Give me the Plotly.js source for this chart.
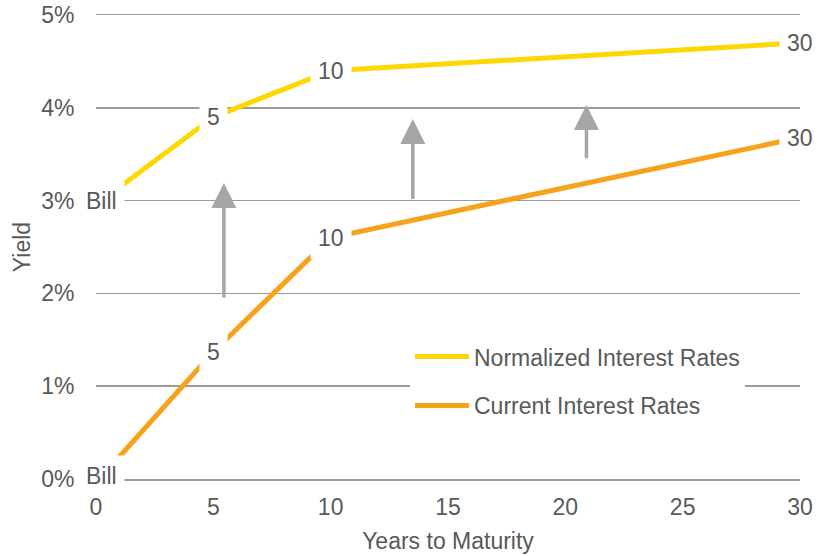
<!DOCTYPE html>
<html>
<head>
<meta charset="utf-8">
<script src="https://cdn.plot.ly/plotly-3.0.1.min.js"></script>
<style>
  html, body { margin: 0; padding: 0; background: #ffffff; }
  #chart { width: 826px; height: 556px; }
</style>
</head>
<body>
<div id="chart"></div>
<script>
// ---- Data ----
var maturities = [0.25, 5, 10, 30];
var pointLabels = ['Bill', '5', '10', '30'];
var normalizedRates = [3.0, 3.9, 4.4, 4.7];
var currentRates = [0.03, 1.37, 2.6, 3.68];

var seriesNames = ['Normalized Interest Rates', 'Current Interest Rates'];

// upward shift arrows (x position, from yield, to yield)
var arrowX = [5.45, 13.5, 20.9];
var arrowFrom = [1.94, 3.0, 3.44];
var arrowTo = [3.19, 3.88, 4.03];

var xTicks = [0, 5, 10, 15, 20, 25, 30];
var yTicks = [0, 1, 2, 3, 4, 5];

// ---- Styles ----
var FONT = 'Liberation Sans, Arial, sans-serif';
var FS = 23;
var TEXT = '#595959';
var YELLOW = '#FFD700';
var ORANGE = '#F7A21B';
var GRID = '#9B9B9B';
var ARROW = '#A6A6A6';

var traces = [
  {
    x: maturities, y: normalizedRates, name: seriesNames[0],
    type: 'scatter', mode: 'lines', legendgroup: 'a',
    line: { color: YELLOW, width: 5 }, hoverinfo: 'skip'
  },
  {
    x: maturities, y: currentRates, name: seriesNames[1],
    type: 'scatter', mode: 'lines', legendgroup: 'b',
    line: { color: ORANGE, width: 5 }, hoverinfo: 'skip'
  }
];

var annotations = [];
[normalizedRates, currentRates].forEach(function (series) {
  series.forEach(function (v, i) {
    annotations.push({
      x: maturities[i], y: v, xref: 'x', yref: 'y',
      text: pointLabels[i], showarrow: false,
      bgcolor: '#ffffff', borderpad: 7,
      font: { family: FONT, size: FS, color: TEXT },
      xanchor: 'center', yanchor: 'middle'
    });
  });
});
arrowX.forEach(function (ax, i) {
  annotations.push({
    x: ax, y: arrowTo[i], ax: ax, ay: arrowFrom[i],
    xref: 'x', yref: 'y', axref: 'x', ayref: 'y',
    text: '', showarrow: true, arrowhead: 2,
    arrowwidth: 3.5, arrowsize: 1.43, arrowcolor: ARROW, standoff: 0
  });
});

var layout = {
  width: 826, height: 556,
  margin: { l: 96, r: 26, t: 15, b: 77, pad: 0 },
  paper_bgcolor: '#ffffff', plot_bgcolor: '#ffffff',
  font: { family: FONT, size: FS, color: TEXT },
  showlegend: true,
  legend: {
    x: 0.446, y: 0.31, xanchor: 'left', yanchor: 'top',
    bgcolor: '#ffffff', borderwidth: 0,
    font: { family: FONT, size: FS, color: TEXT },
    traceorder: 'grouped', tracegroupgap: 16,
    itemwidth: 54
  },
  xaxis: {
    range: [0, 30], tickvals: xTicks, ticktext: xTicks.map(String),
    showgrid: false, zeroline: false,
    showline: true, mirror: true, linecolor: GRID, linewidth: 1.5,
    ticks: 'outside', ticklen: 7, tickcolor: 'rgba(0,0,0,0)',
    tickfont: { family: FONT, size: FS, color: TEXT },
    title: { text: 'Years to Maturity', standoff: 14, font: { family: FONT, size: FS, color: TEXT } }
  },
  yaxis: {
    range: [0, 5], tickvals: yTicks, ticktext: yTicks.map(function (t) { return t + '%'; }),
    showgrid: true, gridcolor: GRID, gridwidth: 1.5,
    zeroline: true, zerolinecolor: GRID, zerolinewidth: 1.5,
    showline: false,
    ticks: 'outside', ticklen: 16, tickcolor: 'rgba(0,0,0,0)',
    tickfont: { family: FONT, size: FS, color: TEXT },
    title: { text: 'Yield', standoff: 4, font: { family: FONT, size: FS, color: TEXT } }
  },
  annotations: annotations
};

Plotly.newPlot('chart', traces, layout, { displayModeBar: false, staticPlot: true });
</script>
</body>
</html>
